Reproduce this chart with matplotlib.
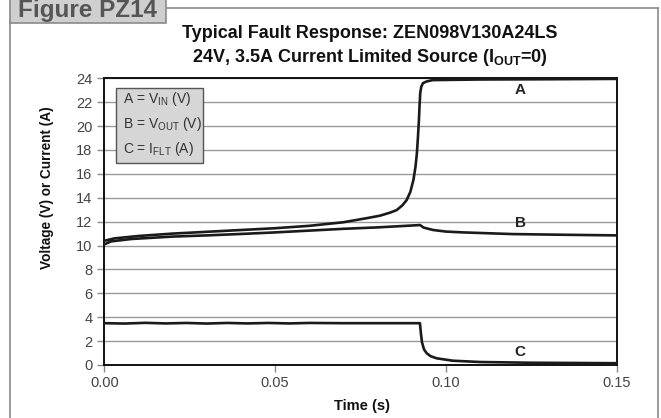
import matplotlib
matplotlib.use("Agg")
import matplotlib.pyplot as plt
from matplotlib.patches import Rectangle
from matplotlib.lines import Line2D

plt.rcParams['font.family'] = ['Liberation Sans', 'DejaVu Sans']
plt.rcParams['mathtext.default'] = 'regular'

# ---- data ----
t_a = [0, 0.003, 0.01, 0.02, 0.03, 0.04, 0.05, 0.06, 0.07, 0.077, 0.0807, 0.0836,
       0.0856, 0.0872, 0.0885, 0.0896, 0.0905, 0.0911, 0.0915, 0.0918, 0.0921,
       0.0923, 0.0925, 0.0928, 0.0933, 0.0945, 0.0962, 0.11, 0.13, 0.15]
v_a = [10.4, 10.6, 10.8, 11.0, 11.15, 11.3, 11.45, 11.65, 11.95, 12.3, 12.5, 12.75,
       12.97, 13.35, 13.8, 14.5, 15.5, 16.6, 17.7, 19.0, 20.5,
       21.8, 22.8, 23.3, 23.6, 23.75, 23.85, 23.9, 23.92, 23.95]

t_b = [0, 0.002, 0.008, 0.02, 0.03, 0.04, 0.05, 0.06, 0.07, 0.08, 0.0915, 0.0924,
       0.0935, 0.0963, 0.1, 0.105, 0.1195, 0.135, 0.15]
v_b = [10.1, 10.35, 10.55, 10.75, 10.85, 10.97, 11.1, 11.25, 11.4, 11.52, 11.7, 11.72,
       11.5, 11.3, 11.17, 11.1, 10.96, 10.9, 10.85]

t_c = [0, 0.006, 0.012, 0.018, 0.024, 0.03, 0.036, 0.042, 0.048, 0.054, 0.06, 0.07,
       0.08, 0.09, 0.0924, 0.0927, 0.0930, 0.0936, 0.0944, 0.0955, 0.0973, 0.102,
       0.110, 0.1247, 0.15]
v_c = [3.5, 3.47, 3.53, 3.48, 3.52, 3.47, 3.52, 3.48, 3.52, 3.48, 3.52, 3.5,
       3.5, 3.5, 3.5, 2.6, 1.9, 1.3, 0.98, 0.74, 0.56, 0.36,
       0.25, 0.19, 0.15]

x_ticks = [0.00, 0.05, 0.10, 0.15]
x_tick_labels = ['0.00', '0.05', '0.10', '0.15']
y_ticks = list(range(0, 25, 2))

series_labels = ['A', 'B', 'C']
label_pos = [(0.1217, 23.0), (0.1217, 11.9), (0.1217, 1.1)]
legend_lines = ['A = V$_{IN}$ (V)', 'B = V$_{OUT}$ (V)', 'C = I$_{FLT}$ (A)']

title1 = 'Typical Fault Response: ZEN098V130A24LS'
title2 = '24V, 3.5A Current Limited Source (I$_{OUT}$=0)'

W, H = 661, 418
fig = plt.figure(figsize=(W / 100, H / 100), dpi=100)
ax = fig.add_axes([104.3 / W, 1 - 365 / H, (616.7 - 104.3) / W, (365 - 78.3) / H])

for t, v in [(t_a, v_a), (t_b, v_b), (t_c, v_c)]:
    ax.plot(t, v, color='#1a1a1a', lw=1.9, zorder=3, solid_joinstyle='round')

ax.set_xlim(0, 0.15)
ax.set_ylim(0, 24)
ax.set_xticks(x_ticks)
ax.set_xticklabels(x_tick_labels)
ax.set_yticks(y_ticks)
ax.yaxis.grid(True, color='#9a9a9a', lw=1.0, zorder=0)
ax.tick_params(axis='both', colors='#8a8a8a', labelcolor='#444444', labelsize=10.5,
               length=5, width=1.0, direction='out')
ax.tick_params(axis='x', pad=3)
for s in ax.spines.values():
    s.set_color('#111111')
    s.set_linewidth(1.4)

ax.set_xlabel('Time (s)', fontweight='bold', fontsize=10.5, color='#111111')
ax.xaxis.set_label_coords((361.7 - 104.3) / (616.7 - 104.3), -(406 - 365) / (365 - 78.3))
ax.xaxis.label.set_va('center')
ax.set_ylabel('Voltage (V) or Current (A)', fontweight='bold', fontsize=9.8,
              color='#111111')
ax.yaxis.set_label_coords(-(104.3 - 47) / (616.7 - 104.3), (365 - 188) / (365 - 78.3))
ax.yaxis.label.set_va('center')

for lab, (x, y) in zip(series_labels, label_pos):
    ax.text(x, y, lab, fontweight='bold', fontsize=11, ha='center', va='center',
            color='#222222', zorder=4)

# legend box
bx0, by0, bx1, by1 = 116, 88, 203, 163
fig.patches.append(Rectangle((bx0 / W, 1 - by1 / H), (bx1 - bx0) / W, (by1 - by0) / H,
                             transform=fig.transFigure, facecolor='#d6d6d6',
                             edgecolor='#555555', lw=1.0, zorder=5))
for i, txt in enumerate(legend_lines):
    fig.text(123 / W, 1 - (99.5 + 24.5 * i) / H, txt, fontsize=10, color='#333333',
             ha='left', va='center', zorder=6)

# titles
fig.text(369.5 / W, 1 - 33 / H, title1, fontweight='bold', fontsize=13,
         ha='center', va='center', color='#111111')
fig.text(369.5 / W, 1 - 58 / H, title2, fontweight='bold', fontsize=13,
         ha='center', va='center', color='#111111')

# outer frame
fc = '#8a8a8a'
fig.add_artist(Line2D([9.5 / W, 9.5 / W], [0, 1 - 22 / H], color=fc, lw=1.2,
                      transform=fig.transFigure))
fig.add_artist(Line2D([657.5 / W, 657.5 / W], [0, 1 - 8 / H], color=fc, lw=1.2,
                      transform=fig.transFigure))
fig.add_artist(Line2D([166 / W, 657.5 / W], [1 - 8 / H, 1 - 8 / H], color=fc, lw=1.2,
                      transform=fig.transFigure))
fig.patches.append(Rectangle((9.5 / W, 1 - 22.5 / H), (166 - 9.5) / W, 30 / H,
                             transform=fig.transFigure, facecolor='#cfcfcf',
                             edgecolor=fc, lw=1.2, zorder=2))
fig.text(88 / W, 1 - 10 / H, 'Figure PZ14', fontweight='bold', fontsize=17.5,
         ha='center', va='center', color='#555555', zorder=3)

fig.savefig('out.png', dpi=100)
